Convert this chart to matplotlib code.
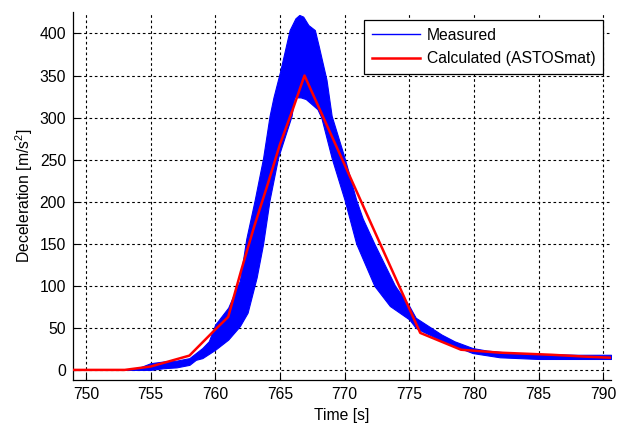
import matplotlib
matplotlib.use("Agg")
import matplotlib.pyplot as plt
from matplotlib.lines import Line2D
import numpy as np

plt.rcParams['font.family'] = ['Liberation Sans', 'DejaVu Sans']
plt.rcParams['mathtext.fontset'] = 'custom'
plt.rcParams['mathtext.rm'] = 'Liberation Sans'
plt.rcParams['mathtext.it'] = 'Liberation Sans:italic'
plt.rcParams['mathtext.default'] = 'regular'

# Measured signal: envelope of the oscillating band (time [s], deceleration)
meas_up_t = [753, 754, 755, 756, 757, 758, 759, 759.5, 760, 761, 761.9, 762.4, 763.05,
             763.7, 764.2, 764.5, 765.0, 765.75, 766.2, 766.5, 766.8, 767.2, 767.7,
             768.0, 768.6, 769.0, 770.0, 770.9, 771.4, 772.3, 773.9, 775.0, 775.5,
             776.5, 777.5, 778.5, 779.9, 781, 783, 785, 788, 790.6]
meas_up_v = [0, 2, 8, 10, 11, 14, 26, 34, 54, 74, 106, 156, 202,
             252, 302, 324, 354, 404, 418, 422, 420, 410, 404,
             385, 345, 302, 252, 202, 180, 150, 100, 76, 62,
             52, 42, 34, 26, 23, 20, 19, 18, 18]
meas_lo_t = [753, 755, 756, 757, 758, 758.5, 759, 760, 761, 761.9, 762.5, 763.2, 763.7,
             764.2, 764.85, 765.9, 766.1, 766.6, 767.0, 767.3, 767.9, 768.2, 769.0,
             770.0, 770.9, 772.3, 773.5, 775.0, 775.5, 776, 777.9, 779.9, 782, 785, 790.6]
meas_lo_v = [0, 0, 2, 3, 6, 12, 14, 24, 36, 52, 68, 110, 150,
             202, 252, 302, 324, 324, 322, 318, 310, 300, 252,
             202, 150, 100, 76, 60, 50, 46, 32, 20, 15, 13, 13]

# Calculated (ASTOSmat)
calc_t = [749, 753, 755, 758, 760, 761, 762, 763, 764, 765, 766, 766.9,
          775.85, 779, 782, 786, 789, 790.6]
calc_v = [0, 0, 4, 17, 48, 63, 118, 170, 218, 268, 310, 350,
          44, 24, 20.5, 18, 15.5, 14.5]

xticks = [750, 755, 760, 765, 770, 775, 780, 785, 790]
yticks = [0, 50, 100, 150, 200, 250, 300, 350, 400]

fig = plt.figure(figsize=(6.22, 4.23), dpi=100)
ax = fig.add_axes([73/622, 1-380/423, (611-73)/622, (380-12)/423])

# merge envelopes on a common time base made of both readings
tt = np.array(sorted(set(meas_up_t) | set(meas_lo_t)))
up = np.interp(tt, meas_up_t, meas_up_v)
lo = np.interp(tt, meas_lo_t, meas_lo_v)
ax.fill_between(tt, lo, up, color=(0, 0, 1), linewidth=0.8, zorder=2)
ax.plot(calc_t, calc_v, color=(1, 0, 0), linewidth=1.8, zorder=3)

ax.set_xlim(749, 790.6)
ax.set_ylim(-12, 425.5)
ax.set_xticks(xticks)
ax.set_yticks(yticks)
ax.tick_params(direction='in', length=4, labelsize=11.3, pad=5, width=0.8)
ax.grid(True, color='black', linestyle=(0, (2.4, 2.4)), linewidth=0.8, zorder=0)
ax.set_axisbelow(True)
for s in ['top', 'right']:
    ax.spines[s].set_visible(False)
for s in ['left', 'bottom']:
    ax.spines[s].set_linewidth(0.9)

ax.set_xlabel('Time [s]', fontsize=11.3, labelpad=4)
ax.set_ylabel('Deceleration [m/s$^2$]', fontsize=11.3, labelpad=3)

handles = [Line2D([], [], color=(0, 0, 1), linewidth=1.0),
           Line2D([], [], color=(1, 0, 0), linewidth=1.8)]
leg = ax.legend(handles, ['Measured', 'Calculated (ASTOSmat)'], loc='upper right',
                bbox_to_anchor=(603/622, 1-20/423), bbox_transform=fig.transFigure,
                fontsize=11.3, fancybox=False, framealpha=1, edgecolor='black',
                handlelength=3.1, handletextpad=0.4, borderpad=0.5, labelspacing=0.55,
                borderaxespad=0)
leg.get_frame().set_linewidth(0.9)

fig.savefig('out.png', dpi=100)
